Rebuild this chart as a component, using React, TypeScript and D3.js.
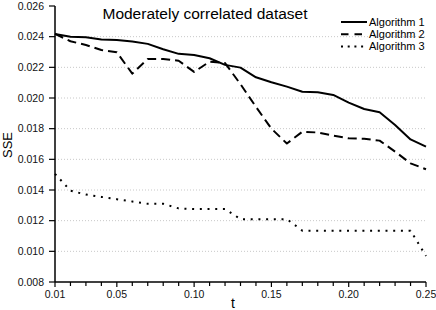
import React from "react";
import * as d3 from "d3";

const tValues = [0.01,0.02,0.03,0.04,0.05,0.06,0.07,0.08,0.09,0.10,0.11,0.12,0.13,0.14,0.15,0.16,0.17,0.18,0.19,0.20,0.21,0.22,0.23,0.24,0.25];
const algorithm1 = [0.02418,0.02400,0.02396,0.02381,0.02378,0.02368,0.02353,0.02318,0.02288,0.02280,0.02259,0.02216,0.02198,0.02135,0.02103,0.02074,0.02041,0.02037,0.02020,0.01970,0.01928,0.01907,0.01824,0.01730,0.01683];
const algorithm2 = [0.02418,0.02370,0.02346,0.02313,0.02298,0.02159,0.02255,0.02255,0.02243,0.02170,0.02237,0.02228,0.02090,0.01942,0.01800,0.01703,0.01780,0.01775,0.01755,0.01737,0.01734,0.01722,0.01650,0.01574,0.01535];
const algorithm3 = [0.01505,0.01396,0.01370,0.01355,0.01340,0.01325,0.01310,0.01310,0.01280,0.01276,0.01276,0.01276,0.01210,0.01210,0.01210,0.01210,0.01135,0.01135,0.01135,0.01135,0.01135,0.01135,0.01135,0.01135,0.00970];
const seriesNames = ["Algorithm 1", "Algorithm 2", "Algorithm 3"];
const yTicks = [0.008,0.010,0.012,0.014,0.016,0.018,0.020,0.022,0.024,0.026];
const xMajorTicks = [0.01,0.05,0.10,0.15,0.20,0.25];
const xMinorTicks = [0.02,0.03,0.04,0.06,0.07,0.08,0.09,0.11,0.12,0.13,0.14,0.16,0.17,0.18,0.19,0.21,0.22,0.23,0.24];
const title = "Moderately correlated dataset";

const FONT = "'Liberation Sans', Arial, sans-serif";

export default function App() {
  const W = 436, H = 310;
  const left = 55, right = 426, top = 6, bottom = 282;
  const x = d3.scaleLinear().domain([0.01, 0.25]).range([left, right]);
  const y = d3.scaleLinear().domain([0.008, 0.026]).range([bottom, top]);
  const line = d3.line<number>().x((_, i) => x(tValues[i])).y((d) => y(d));
  const series = [algorithm1, algorithm2, algorithm3];
  const dashes = [undefined, "9,5", "2,5.7"];

  return (
    <svg width={W} height={H} style={{ position: "absolute", left: 0, top: 0, background: "#fff" }} fontFamily={FONT}>
      <rect x={0} y={0} width={W} height={H} fill="#fff" />
      {yTicks.slice(1, -1).map((v) => (
        <line key={"g" + v} x1={left} x2={right} y1={y(v)} y2={y(v)} stroke="#c8c8c8" strokeWidth={1} strokeDasharray="1,2" />
      ))}
      {series.map((s, i) => (
        <path key={"s" + i} d={line(s) || ""} fill="none" stroke="#000" strokeWidth={2} strokeDasharray={dashes[i]} strokeLinejoin="round" />
      ))}
      <line x1={left} x2={left} y1={top} y2={bottom} stroke="#000" strokeWidth={1.5} />
      <line x1={left} x2={right} y1={bottom} y2={bottom} stroke="#000" strokeWidth={1.5} />
      {yTicks.map((v) => (
        <g key={"y" + v}>
          <line x1={left - 6} x2={left} y1={y(v)} y2={y(v)} stroke="#000" strokeWidth={1.2} />
          <text x={left - 11} y={y(v)} dy="0.35em" textAnchor="end" fontSize={10.5} fill="#111">{v.toFixed(3)}</text>
        </g>
      ))}
      {xMajorTicks.map((v) => (
        <g key={"x" + v}>
          <line x1={x(v)} x2={x(v)} y1={bottom} y2={bottom + 5} stroke="#000" strokeWidth={1.2} />
          <text x={x(v)} y={bottom + 16} textAnchor="middle" fontSize={10.5} fill="#111">{v.toFixed(2)}</text>
        </g>
      ))}
      {xMinorTicks.map((v) => (
        <line key={"m" + v} x1={x(v)} x2={x(v)} y1={bottom} y2={bottom + 4} stroke="#000" strokeWidth={1.2} />
      ))}
      <text x={233} y={308} textAnchor="middle" fontSize={14}>t</text>
      <text transform="translate(12,145) rotate(-90)" textAnchor="middle" fontSize={13}>SSE</text>
      <text x={205} y={18.5} textAnchor="middle" fontSize={15.5}>{title}</text>
      {seriesNames.map((n, i) => (
        <g key={"l" + i}>
          <line x1={341} x2={367} y1={22 + i * 12.2} y2={22 + i * 12.2} stroke="#000" strokeWidth={2} strokeDasharray={i === 1 ? "7.5,6" : i === 2 ? "2,4.7" : undefined} />
          <text x={369} y={22 + i * 12.2} dy="0.36em" fontSize={11}>{n}</text>
        </g>
      ))}
    </svg>
  );
}
